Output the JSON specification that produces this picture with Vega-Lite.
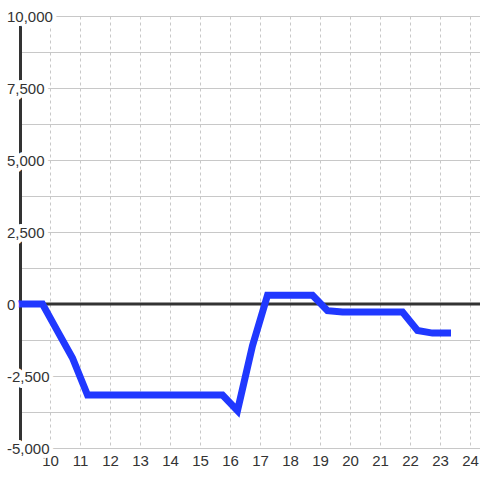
{
  "$schema": "https://vega.github.io/schema/vega-lite/v6.json",
  "width": 460,
  "height": 432,
  "autosize": {"type": "none"},
  "padding": {"left": 20, "top": 16, "right": 0, "bottom": 32},
  "background": "white",
  "config": {"view": {"stroke": null}, "font": "Liberation Sans",
    "axisX": {"grid": true, "gridDash": [3, 3], "gridColor": "#c8c8c8", "gridWidth": 1, "domain": false, "ticks": false, "labelFontSize": 15, "labelColor": "#333", "labelPadding": 5, "title": null},
    "axisY": {"grid": true, "gridColor": "#c8c8c8", "gridWidth": 1, "labels": false, "domain": true, "domainColor": "#333", "domainWidth": 3, "ticks": false, "title": null}
  },
  "datasets": {
    "series": [
      {"t": 9, "v": 0},
      {"t": 9.75, "v": 0},
      {"t": 10.25, "v": -940},
      {"t": 10.75, "v": -1875},
      {"t": 11.25, "v": -3160},
      {"t": 15.75, "v": -3160},
      {"t": 16.25, "v": -3700},
      {"t": 16.75, "v": -1450},
      {"t": 17.25, "v": 300},
      {"t": 18.75, "v": 300},
      {"t": 19.25, "v": -230},
      {"t": 19.75, "v": -280},
      {"t": 21.75, "v": -280},
      {"t": 22.25, "v": -920},
      {"t": 22.75, "v": -1010},
      {"t": 23.25, "v": -1010}
    ],
    "labels": [
      {"t": 9, "v": -5000, "s": "-5,000"},
      {"t": 9, "v": -2500, "s": "-2,500"},
      {"t": 9, "v": 0, "s": "0"},
      {"t": 9, "v": 2500, "s": "2,500"},
      {"t": 9, "v": 5000, "s": "5,000"},
      {"t": 9, "v": 7500, "s": "7,500"},
      {"t": 9, "v": 10000, "s": "10,000"}
    ],
    "frame": [{"t": 9, "t2": 24.3333, "v": 0}]
  },
  "encoding": {
    "x": {
      "field": "t", "type": "quantitative",
      "scale": {"domain": [9, 24.3333], "nice": false, "zero": false},
      "axis": {"values": [10, 11, 12, 13, 14, 15, 16, 17, 18, 19, 20, 21, 22, 23, 24]}
    },
    "y": {
      "field": "v", "type": "quantitative",
      "scale": {"domain": [-5000, 10000], "nice": false, "zero": false},
      "axis": {"values": [-5000, -3750, -2500, -1250, 0, 1250, 2500, 3750, 5000, 6250, 7500, 8750, 10000]}
    }
  },
  "layer": [
    {
      "data": {"name": "frame"},
      "mark": {"type": "rule", "color": "#333", "strokeWidth": 3},
      "encoding": {"x2": {"field": "t2"}}
    },
    {
      "data": {"name": "series"},
      "mark": {"type": "line", "color": "#2038ff", "strokeWidth": 7, "strokeCap": "square", "strokeJoin": "miter"}
    },
    {
      "data": {"name": "labels"},
      "mark": {"type": "text", "align": "left", "baseline": "middle", "dx": -13, "dy": 1, "fontSize": 15, "color": "white", "stroke": "white", "strokeWidth": 8, "strokeJoin": "round"},
      "encoding": {"text": {"field": "s"}}
    },
    {
      "data": {"name": "labels"},
      "mark": {"type": "text", "align": "left", "baseline": "middle", "dx": -13, "dy": 1, "fontSize": 15, "color": "#333"},
      "encoding": {"text": {"field": "s"}}
    }
  ]
}
